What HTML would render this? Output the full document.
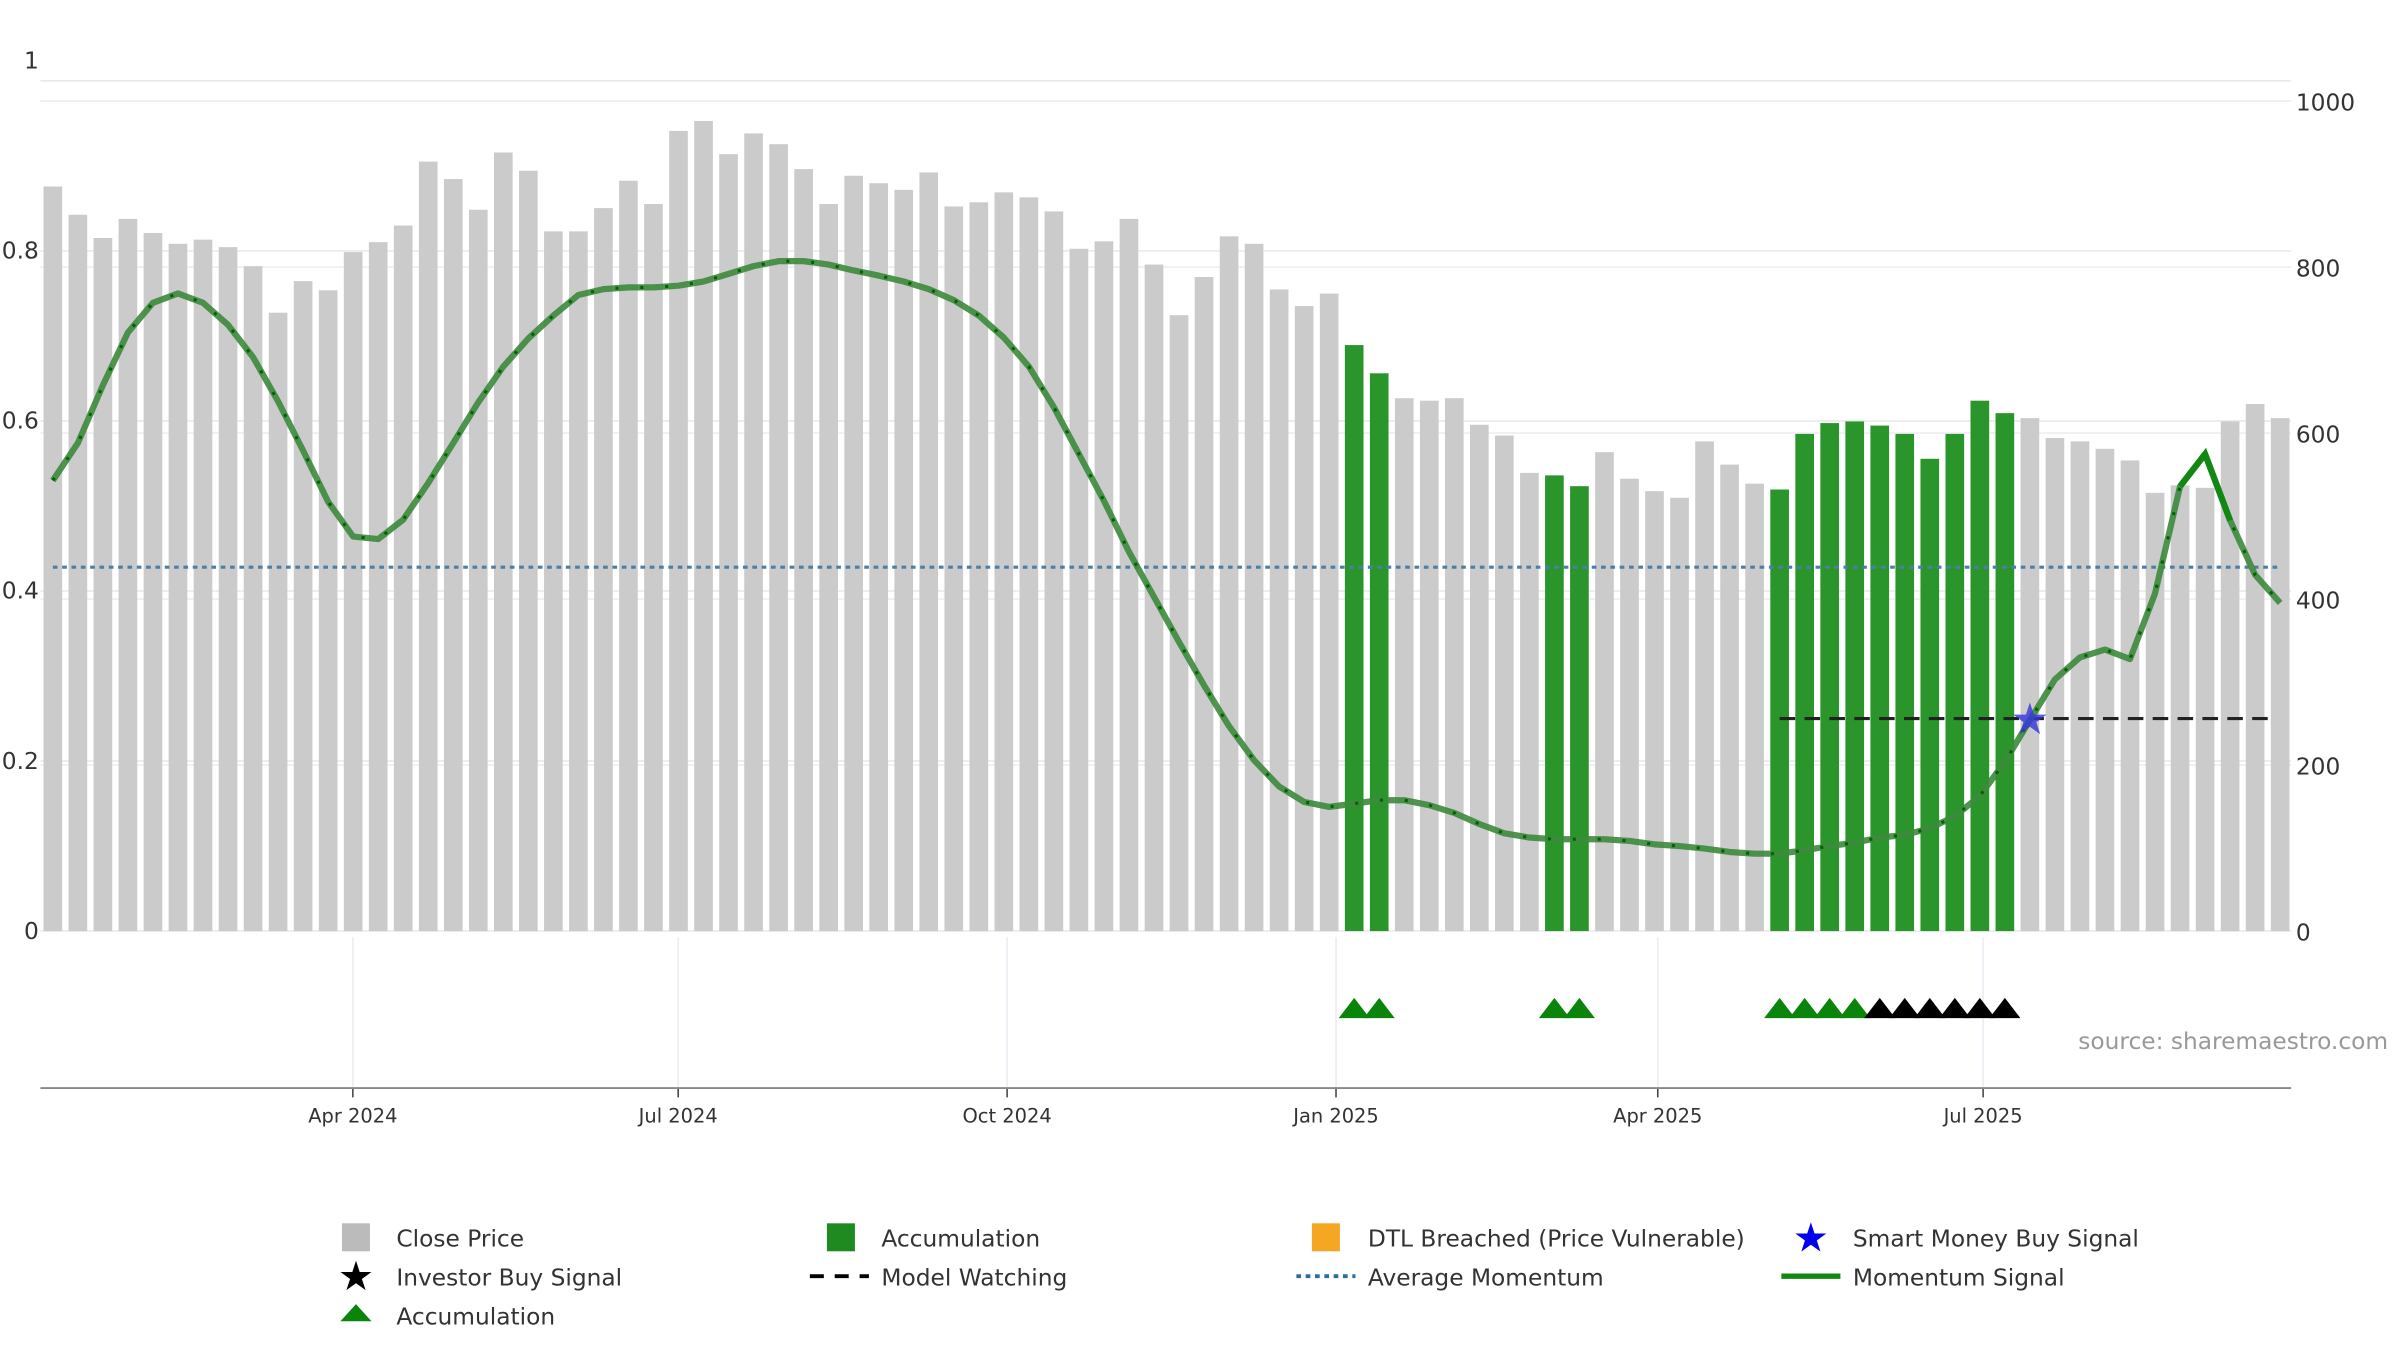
<!DOCTYPE html>
<html><head><meta charset="utf-8"><style>
html,body{margin:0;padding:0;background:#fff;}
svg{display:block;font-family:"DejaVu Sans","Liberation Sans",sans-serif;}
</style></head><body>
<svg id="chart" width="2400" height="1350" viewBox="0 0 1544 868.5" preserveAspectRatio="none" xmlns="http://www.w3.org/2000/svg">
<g id="grid"></g>
<g id="bars"></g>
<g id="lines"></g>
<g id="axes"></g>
<g id="lower"></g>
<text x="1337" y="675" font-size="15" fill="#999">source: sharemaestro.com</text>
<g id="legend" font-size="15" fill="#333">
 <g><rect x="220" y="787" width="18" height="18" fill="#bbb"/><text x="255" y="802">Close Price</text></g>
 <g><rect x="532" y="787" width="18" height="18" fill="#1f8a1f"/><text x="567" y="802">Accumulation</text></g>
 <g><rect x="844" y="787" width="18" height="18" fill="#f5a623"/><text x="880" y="802">DTL Breached (Price Vulnerable)</text></g>
 <g><text x="1165" y="805" font-size="26" fill="#0000ee" text-anchor="middle">★</text><text x="1192" y="802">Smart Money Buy Signal</text></g>
 <g><text x="229" y="830" font-size="26" fill="#000" text-anchor="middle">★</text><text x="255" y="827">Investor Buy Signal</text></g>
 <g><line x1="521" y1="821" x2="559" y2="821" stroke="#000" stroke-width="2.5" stroke-dasharray="9,7"/><text x="567" y="827">Model Watching</text></g>
 <g><line x1="834" y1="821" x2="872" y2="821" stroke="#2a6f9a" stroke-width="2.5" stroke-dasharray="3,3"/><text x="880" y="827">Average Momentum</text></g>
 <g><line x1="1146" y1="821" x2="1184" y2="821" stroke="#118811" stroke-width="3.5"/><text x="1192" y="827">Momentum Signal</text></g>
 <g><polygon points="219,850 229,839 239,850" fill="#0a840a"/><text x="255" y="852">Accumulation</text></g>
</g>
</svg>
<script>
const prices = [897,863,835,858,841,828,833,824,801,745,783,772,818,830,850,927,906,869,938,916,843,843,871,904,876,964,976,936,961,948,918,876,910,901,893,914,873,878,890,884,867,822,831,858,803,742,788,837,828,773,753,768,706,672,642,639,642,610,597,552,549,536,577,545,530,522,590,562,539,532,599,612,614,609,599,569,599,639,624,618,594,590,581,567,528,537,534,614,635,618];
const accumIdx = [52,53,60,61,69,70,71,72,73,74,75,76,77,78];
const momentum = [0.53,0.574,0.642,0.704,0.739,0.75,0.739,0.713,0.675,0.623,0.565,0.505,0.464,0.461,0.484,0.527,0.574,0.622,0.664,0.697,0.724,0.748,0.755,0.757,0.757,0.759,0.764,0.773,0.782,0.788,0.788,0.784,0.777,0.771,0.764,0.755,0.742,0.724,0.698,0.664,0.616,0.561,0.506,0.446,0.393,0.34,0.289,0.241,0.201,0.17,0.152,0.146,0.15,0.154,0.154,0.148,0.139,0.126,0.115,0.11,0.108,0.108,0.108,0.106,0.102,0.1,0.097,0.093,0.091,0.091,0.095,0.1,0.104,0.11,0.113,0.121,0.135,0.159,0.199,0.248,0.296,0.322,0.331,0.32,0.397,0.523,0.561,0.483,0.419,0.386];
const signalStart = 85;
const signalEnd = 87;
const avgMomentum = 0.428;
const watchLevel = 0.25;
const watchStart = 69;
const smartMoneyIdx = 79;
const greenTriIdx = [52,53,60,61,69,70,71,72];
const blackTriIdx = [73,74,75,76,77,78];
const leftTicks = [0,0.2,0.4,0.6,0.8,1];
const leftTickLabels = ["0","0.2","0.4","0.6","0.8","1"];
const rightTicks = [0,200,400,600,800,1000];
const monthLabels = ["Apr 2024","Jul 2024","Oct 2024","Jan 2025","Apr 2025","Jul 2025"];
const monthDays = [91,182,274,366,456,547]; // days since 2024-01-01

const NS="http://www.w3.org/2000/svg";
function mk(tag,attrs,parent){const e=document.createElementNS(NS,tag);for(const k in attrs)e.setAttribute(k,attrs[k]);parent.appendChild(e);return e;}
const xIdx=i=>34+i*16.1;
const x0day=227-91*2.3;
const xDay=d=>x0day+d*2.3;
const yL=v=>599-547*v;
const yR=v=>599-0.534*v;
const grid=document.getElementById('grid'),bars=document.getElementById('bars'),lines=document.getElementById('lines'),axes=document.getElementById('axes'),lower=document.getElementById('lower');

leftTicks.forEach((t,k)=>{
 const g=mk('line',{x1:26,x2:1474,y1:yL(t),y2:yL(t),stroke:'#e8e8ee','stroke-width':1},grid);
 
 
 const tx=mk('text',{x:25,y:yL(t)+(t===1?-8:5),'font-size':15,fill:'#333','text-anchor':'end'},axes);
 tx.textContent=leftTickLabels[k];
 
 
});
rightTicks.forEach(t=>{
 const g=mk('line',{x1:26,x2:1474,y1:yR(t),y2:yR(t),stroke:'#eeeef2','stroke-width':1},grid);
 
 
 const tx=mk('text',{x:1477,y:yR(t)+6,'font-size':15,fill:'#333'},axes);
 tx.textContent=String(t);
 
 
});
prices.forEach((p,i)=>{
 const acc=accumIdx.includes(i);
 const r=mk('rect',{x:xIdx(i)-6,y:yR(p),width:12,height:yR(0)-yR(p),fill:acc?'#2a952a':'#cbcbcb'},bars);
 
 
});
const avg=mk('line',{x1:34,x2:1467,y1:yL(avgMomentum),y2:yL(avgMomentum),stroke:'#4a7fa8','stroke-width':2,'stroke-dasharray':'3,3'},lines);


const watch=mk('line',{x1:xIdx(watchStart),x2:1462,y1:yL(watchLevel),y2:yL(watchLevel),stroke:'#222','stroke-width':2,'stroke-dasharray':'10,6'},lines);


const pts=momentum.map((v,i)=>xIdx(i).toFixed(1)+','+yL(v).toFixed(1)).join(' ');
const m1=mk('polyline',{points:pts,fill:'none',stroke:'#3c8a3c','stroke-opacity':0.9,'stroke-width':4,'stroke-linejoin':'round'},lines);


const m2=mk('polyline',{points:pts,fill:'none',stroke:'#006400','stroke-width':2,'stroke-dasharray':'2,14'},lines);


const sp=momentum.slice(signalStart,signalEnd+1).map((v,k)=>xIdx(signalStart+k).toFixed(1)+','+yL(v).toFixed(1)).join(' ');
const m3=mk('polyline',{points:sp,fill:'none',stroke:'#118811','stroke-width':4},lines);


const st=mk('text',{x:xIdx(smartMoneyIdx),y:yL(momentum[smartMoneyIdx])+9,'font-size':28,fill:'#3333dd','fill-opacity':0.8,'text-anchor':'middle'},lines);
st.textContent='★';



monthDays.forEach((d,k)=>{
 const x=xDay(d);
 const gl=mk('line',{x1:x,x2:x,y1:603,y2:700,stroke:'#ececf2','stroke-width':1},grid);
 
 
 const tk=mk('line',{x1:x,x2:x,y1:700,y2:706,stroke:'#444','stroke-width':1},axes);
 
 
 const tx=mk('text',{x:x,y:722,'font-size':12.5,fill:'#333','text-anchor':'middle'},axes);
 tx.textContent=monthLabels[k];
 
 
});
const ax=mk('line',{x1:26,x2:1474,y1:700,y2:700,stroke:'#888','stroke-width':1.2},axes);


function tri(i,color,name){
 const x=xIdx(i);
 const p=mk('polygon',{points:(x-10)+',655 '+x+',642 '+(x+10)+',655',fill:color},lower);
 
 
}
greenTriIdx.forEach(i=>tri(i,'#0a840a','accumulation-marker'));
blackTriIdx.forEach(i=>tri(i,'#000','investor-buy-marker'));
</script>
</body></html>
